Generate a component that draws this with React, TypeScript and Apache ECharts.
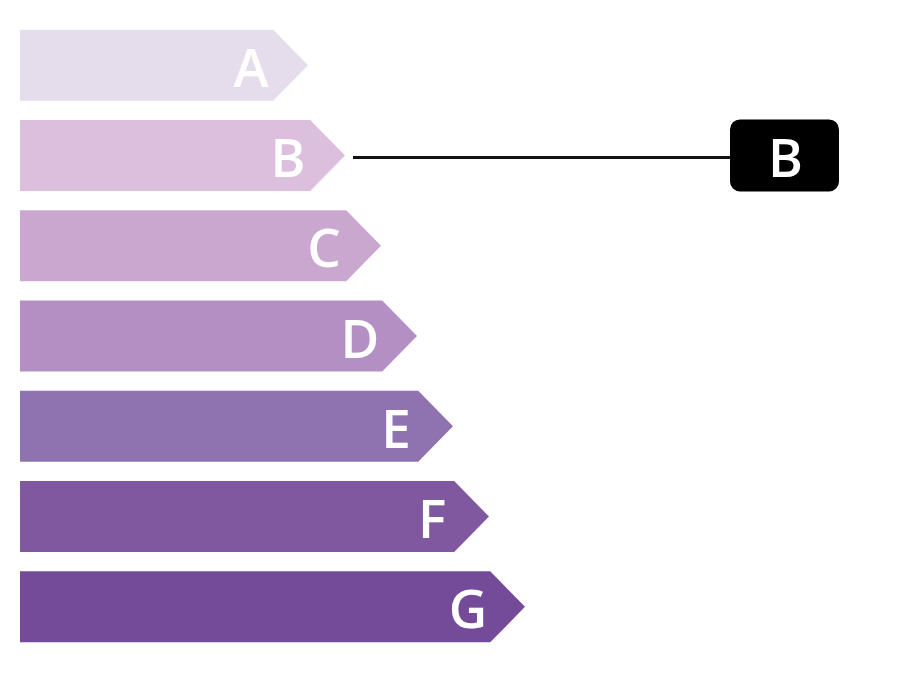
import React, { useEffect, useRef } from "react";
import * as echarts from "echarts";

const classes = ["A", "B", "C", "D", "E", "F", "G"];
const barLengths = [288, 325, 361, 397, 433, 469, 505];
const classColors = ["#e5dcec", "#dbbfdd", "#c9a7cf", "#b48fc3", "#8f73b1", "#8058a0", "#744b99"];
const selectedClass = "B";

export default function App() {
  const ref = useRef<HTMLDivElement>(null);
  useEffect(() => {
    if (!ref.current) return;
    const chart = echarts.init(ref.current, undefined, { renderer: "svg" });
    const selIdx = classes.indexOf(selectedClass);
    const option = {
      animation: false,
      grid: { left: 20, right: 0, top: 20, bottom: 31 },
      xAxis: { type: "value", min: 0, max: 880, show: false },
      yAxis: { type: "category", data: classes, inverse: true, show: false },
      series: [
        {
          type: "custom",
          encode: { x: 1, y: 0 },
          data: classes.map((c, i) => [i, barLengths[i]]),
          renderItem: (params: any, api: any) => {
            const cat = api.value(0);
            const val = api.value(1);
            const start = api.coord([0, cat]);
            const end = api.coord([val, cat]);
            const bandH = api.size([0, 1])[1];
            const h = bandH * 0.786;
            const d = h * 0.49;
            const cy = start[1];
            const x0 = start[0];
            const tip = end[0];
            const children: any[] = [
              {
                type: "polygon",
                shape: {
                  points: [
                    [x0, cy - h / 2],
                    [tip - d, cy - h / 2],
                    [tip, cy],
                    [tip - d, cy + h / 2],
                    [x0, cy + h / 2],
                  ],
                },
                style: { fill: classColors[cat] },
              },
              {
                type: "text",
                x: tip - 57,
                y: cy + 1,
                style: {
                  text: classes[cat],
                  fill: "#ffffff",
                  font: "600 53px 'Open Sans'",
                  align: "center",
                  verticalAlign: "middle",
                },
              },
            ];
            if (cat === selIdx) {
              const boxLeft = 730;
              const boxW = 109;
              const boxH = 72;
              children.push(
                {
                  type: "line",
                  shape: { x1: tip + 8, y1: cy + 2, x2: boxLeft + 2, y2: cy + 2 },
                  style: { stroke: "#111111", lineWidth: 3 },
                },
                {
                  type: "rect",
                  shape: { x: boxLeft, y: cy - boxH / 2, width: boxW, height: boxH, r: 10 },
                  style: { fill: "#000000" },
                },
                {
                  type: "text",
                  x: boxLeft + boxW / 2 + 1,
                  y: cy + 1,
                  style: {
                    text: classes[cat],
                    fill: "#ffffff",
                    font: "600 53px 'Open Sans'",
                    align: "center",
                    verticalAlign: "middle",
                  },
                }
              );
            }
            return { type: "group", children };
          },
        },
      ],
    };
    chart.setOption(option as any);
    return () => chart.dispose();
  }, []);
  return (
    <div
      ref={ref}
      style={{ position: "fixed", left: 0, top: 0, width: 900, height: 683, background: "#ffffff" }}
    />
  );
}
